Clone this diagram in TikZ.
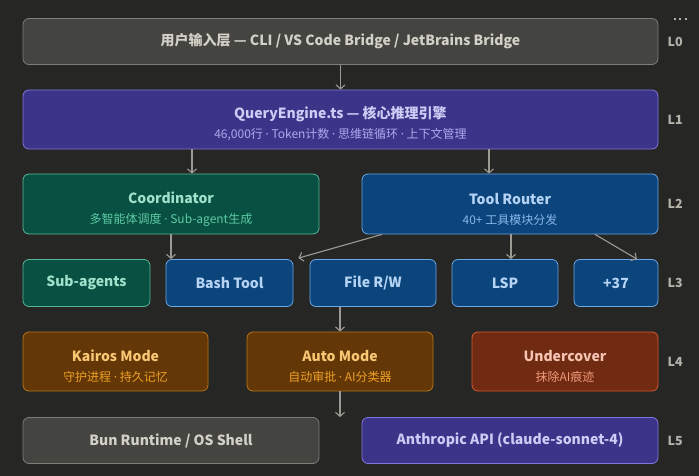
\documentclass[tikz,border=0pt]{standalone}
\usepackage{fontspec}
\setmainfont{Noto Sans CJK SC}
\newfontfamily\latinfont{Noto Sans}
\usepackage{tikz}
\usetikzlibrary{arrows.meta,positioning}
\definecolor{bgdark}{HTML}{262624}
\definecolor{grayfill}{HTML}{444441}
\definecolor{graydraw}{HTML}{7E7D76}
\definecolor{graytext}{HTML}{D3D1C7}
\definecolor{purpfill}{HTML}{3C3489}
\definecolor{purpdraw}{HTML}{7F77DD}
\definecolor{purptext}{HTML}{CECBF6}
\definecolor{purpsub}{HTML}{AFA9EC}
\definecolor{tealfill}{HTML}{085041}
\definecolor{tealdraw}{HTML}{1D9E75}
\definecolor{tealtext}{HTML}{9FE1CB}
\definecolor{tealsub}{HTML}{5DCAA5}
\definecolor{bluefill}{HTML}{0C447C}
\definecolor{bluedraw}{HTML}{378ADD}
\definecolor{bluetext}{HTML}{B5D4F4}
\definecolor{bluesub}{HTML}{85B7EB}
\definecolor{ambrfill}{HTML}{633806}
\definecolor{ambrdraw}{HTML}{BA7517}
\definecolor{ambrtext}{HTML}{FAC775}
\definecolor{ambrsub}{HTML}{EF9F27}
\definecolor{corlfill}{HTML}{712B13}
\definecolor{corldraw}{HTML}{D85A30}
\definecolor{corltext}{HTML}{F5C4B3}
\definecolor{corlsub}{HTML}{F0997B}
\definecolor{linkgray}{HTML}{9C9A92}
\definecolor{lvlgray}{HTML}{B4B2A9}
\tikzset{
  box/.style={rectangle, rounded corners=6pt, line width=0.8pt, align=center,
    inner sep=0pt, minimum width=#1, font=\bfseries\fontsize{14}{17}\selectfont},
  box/.default=296pt,
  graybox/.style={box=#1, fill=grayfill, draw=graydraw, text=graytext},
  purpbox/.style={box=#1, fill=purpfill, draw=purpdraw, text=purptext},
  tealbox/.style={box=#1, fill=tealfill, draw=tealdraw!75, text=tealtext},
  bluebox/.style={box=#1, fill=bluefill, draw=bluedraw!75, text=bluetext},
  ambrbox/.style={box=#1, fill=ambrfill, draw=ambrdraw, text=ambrtext},
  corlbox/.style={box=#1, fill=corlfill, draw=corldraw, text=corltext},
  flow/.style={-{Straight Barb[length=4pt,width=9pt]}, line width=1.1pt, draw=linkgray},
  lvl/.style={font=\bfseries\fontsize{12.5}{14}\selectfont, text=lvlgray, inner sep=0pt, anchor=west},
}
\newcommand{\ttl}[1]{\rule{0pt}{21pt}#1}
\newcommand{\subtx}[2]{\\[3pt]{\fontsize{12}{14}\mdseries\selectfont\color{#1}#2}}
\newcommand{\mdot}{{\latinfont ·}}

\begin{document}
\begin{tikzpicture}[x=1pt, y=-1pt]
    \useasboundingbox[fill=bgdark] (0,0) rectangle (699,476);

    \node[graybox=635pt, minimum height=46pt] (l0) at (340.5,41.5) {用户输入层 — CLI / VS Code Bridge / JetBrains Bridge};
    \node[purpbox=635pt, minimum height=59pt] (qe) at (340.5,119.5) {\ttl{QueryEngine.ts — 核心推理引擎}\subtx{purpsub}{46,000行 \mdot{} Token计数 \mdot{} 思维链循环 \mdot{} 上下文管理}};

    \node[tealbox, minimum height=60pt] (coord) at (171,204) {\ttl{Coordinator}\subtx{tealsub}{多智能体调度 \mdot{} Sub-agent生成}};
    \node[bluebox, minimum height=60pt] (router) at (510,204) {\ttl{Tool Router}\subtx{bluesub}{40+ 工具模块分发}};

    \node[tealbox=127pt, minimum height=47pt] (subag) at (86.5,283) {Sub-agents};
    \node[bluebox=127pt, minimum height=47pt] (bash) at (229.5,283) {Bash Tool};
    \node[bluebox=126pt, minimum height=47pt] (filerw) at (373,283) {File R/W};
    \node[bluebox=106pt, minimum height=47pt] (lsp) at (505,283) {LSP};
    \node[bluebox=84pt, minimum height=47pt] (more) at (616,283) {+37};

    \node[ambrbox=185pt, minimum height=59pt] (kairos) at (115.5,361.5) {\ttl{Kairos Mode}\subtx{ambrsub}{守护进程 \mdot{} 持久记忆}};
    \node[ambrbox=186pt, minimum height=59pt] (auto) at (340,361.5) {\ttl{Auto Mode}\subtx{ambrsub}{自动审批 \mdot{} AI分类器}};
    \node[corlbox=186pt, minimum height=59pt] (undercover) at (565,361.5) {\ttl{Undercover}\subtx{corlsub}{抹除AI痕迹}};

    \node[graybox, minimum height=46pt] (bun) at (171,440.5) {Bun Runtime / OS Shell};
    \node[purpbox, minimum height=46pt] (api) at (510,440.5) {Anthropic API (claude-sonnet-4)};

    % layer tags
    \node[lvl, right=9pt of l0.east] (t0) {L0};
    \node[lvl, right=9pt of qe.east] (t1) {L1};
    \node[lvl, right=9pt of router.east] (t2) {L2};
    \node[lvl, right=9pt of more.east] (t3) {L3};
    \node[lvl, right=9pt of undercover.east] (t4) {L4};
    \node[lvl, right=9pt of api.east] (t5) {L5};

    \foreach \dx in {0,5.5,11}
      \fill[lvlgray] (673.5+\dx,17.8) rectangle ++(2.4,2.4);

    \draw[flow] (l0) -- (qe);
    \draw[flow] ([xshift=21pt]coord.north |- qe.south) -- ([xshift=21pt]coord.north);
    \draw[flow] ([xshift=-21pt]router.north |- qe.south) -- ([xshift=-21pt]router.north);
    \draw[flow] (coord.south) -- (coord.south |- bash.north);
    \draw[flow] ([xshift=-128pt]router.south) -- ([xshift=5pt,yshift=1pt]bash.north east);
    \draw[flow] ([xshift=1pt]router.south) -- ([xshift=1pt]router.south |- lsp.north);
    \draw[flow] ([xshift=85pt]router.south) -- ([xshift=21pt]more.north);
    \draw[flow] (auto.north |- filerw.south) -- (auto.north);
    \draw[flow] (auto.south) -- (auto.south |- bun.north);
  \end{tikzpicture}
\end{document}
